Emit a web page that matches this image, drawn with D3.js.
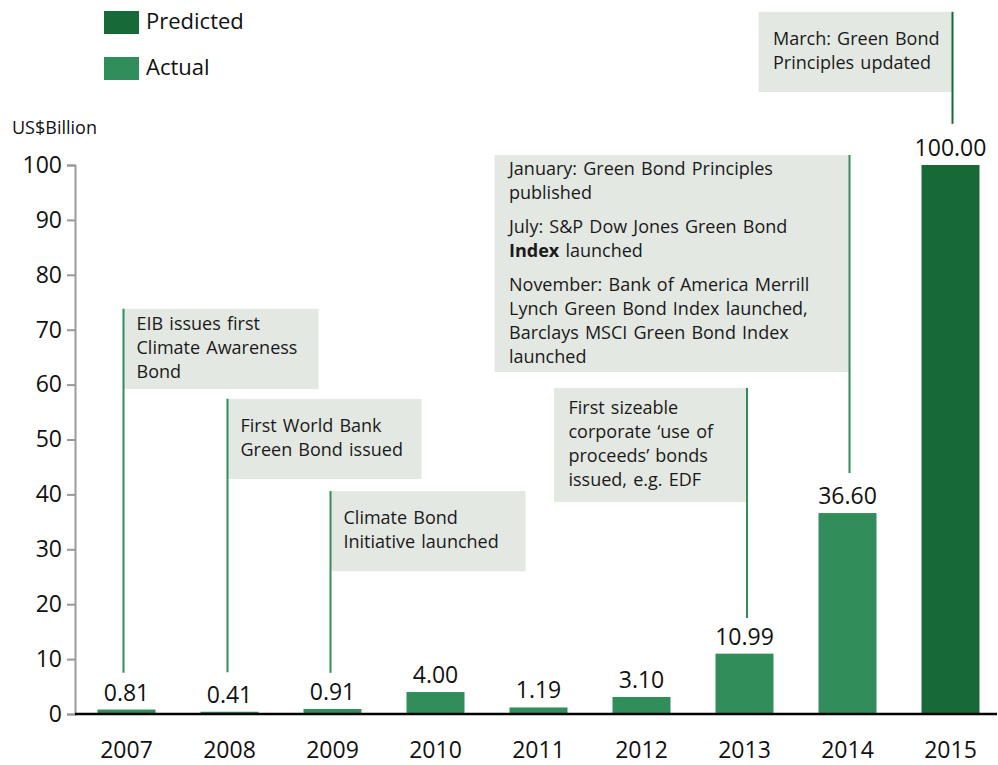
<!DOCTYPE html>
<html>
<head>
<meta charset="utf-8">
<script src="https://cdn.jsdelivr.net/npm/d3@7"></script>
<style>
body { margin: 0; background: #fff; }
svg { font-family: "Open Sans", sans-serif; }
</style>
</head>
<body>
<div id="chart"></div>
<script>
// values
var years = ["2007", "2008", "2009", "2010", "2011", "2012", "2013", "2014", "2015"];
var values = [0.81, 0.41, 0.91, 4.00, 1.19, 3.10, 10.99, 36.60, 100.00];
var kinds = ["Actual", "Actual", "Actual", "Actual", "Actual", "Actual", "Actual", "Actual", "Predicted"];
var legendNames = ["Predicted", "Actual"];
var yTicks = [0, 10, 20, 30, 40, 50, 60, 70, 80, 90, 100];
var yTitle = "US$Billion";

var noteYears = ["2007", "2008", "2009", "2013", "2014", "2015"];
var noteTexts = [
  [["EIB issues first", "Climate Awareness", "Bond"]],
  [["First World Bank", "Green Bond issued"]],
  [["Climate Bond", "Initiative launched"]],
  [["First sizeable", "corporate \u2018use of", "proceeds\u2019 bonds", "issued, e.g. EDF"]],
  [["January: Green Bond Principles", "published"],
   ["July: S&P Dow Jones Green Bond", "**Index** launched"],
   ["November: Bank of America Merrill", "Lynch Green Bond Index launched,", "Barclays MSCI Green Bond Index", "launched"]],
  [["March: Green Bond", "Principles updated"]]
];

// layout of the callouts (box top/bottom and leader end in axis units)
var noteLayout = [
  { side: "left", top: 73.8, bottom: 59.2, w: 195, end: 7.5, dx: -3 },
  { side: "left", top: 57.4, bottom: 42.8, w: 194, end: 7.6, dx: -2 },
  { side: "left", top: 40.6, bottom: 26.0, w: 195, end: 7.5, dx: -2 },
  { side: "right", top: 59.4, bottom: 38.6, w: 193, end: 17.5, dx: 2.5 },
  { side: "right", top: 101.8, bottom: 62.3, w: 355, end: 43.9, dx: 2 },
  { side: "right", top: 127.9, bottom: 113.3, w: 194, end: 107.5, dx: 2 }
];

var colors = { "Actual": "#318e5a", "Predicted": "#176a38" };
var boxFill = "#e4e8e2";

var W = 998, H = 765;
var svg = d3.select("#chart").append("svg")
  .attr("width", W).attr("height", H);

var xScale = d3.scaleBand()
  .domain(years)
  .range([75, 1002])
  .paddingInner(0.437)
  .paddingOuter(0.2185);

var yScale = d3.scaleLinear()
  .domain([0, 100])
  .range([714, 165]);

// callouts (drawn first so bars/labels sit on top)
var notes = svg.append("g").attr("class", "notes");
noteYears.forEach(function (yr, i) {
  var L = noteLayout[i];
  var cx = xScale(yr) + xScale.bandwidth() / 2 + L.dx;
  var top = yScale(L.top), bot = yScale(L.bottom);
  var bx = L.side == "left" ? cx : cx - L.w;
  var g = notes.append("g");
  g.append("rect")
    .attr("x", bx).attr("y", top)
    .attr("width", L.w).attr("height", bot - top)
    .attr("fill", boxFill);
  g.append("line")
    .attr("x1", cx).attr("x2", cx)
    .attr("y1", top).attr("y2", yScale(L.end))
    .attr("stroke", colors[kinds[years.indexOf(yr)]])
    .attr("stroke-width", 2);

  var paras = noteTexts[i];
  var nLines = d3.sum(paras, function (p) { return p.length; });
  var gaps = paras.length - 1;
  var lh = 24, pg = 10;
  var first = (top + bot) / 2 - (lh * (nLines - 1) + pg * gaps) / 2 + 5;
  var tx = bx + (L.side == "left" ? 13 : 14.5);
  var k = 0;
  paras.forEach(function (p, pi) {
    p.forEach(function (line) {
      var t = g.append("text")
        .attr("x", tx)
        .attr("y", first + k * lh + pi * pg)
        .attr("font-size", 18)
        .attr("word-spacing", 1.5)
        .attr("fill", "#1a1a1a");
      line.split("**").forEach(function (part, j) {
        if (!part) return;
        t.append("tspan").attr("font-weight", j % 2 ? 700 : 400).text(part);
      });
      k++;
    });
  });
});

// y axis
var yAxis = d3.axisLeft(yScale).tickValues(yTicks).tickSize(8).tickPadding(5);
var gy = svg.append("g").attr("transform", "translate(75,0)").call(yAxis);
gy.select(".domain").attr("stroke", "#999").attr("stroke-width", 2);
gy.selectAll(".tick line").attr("stroke", "#999").attr("stroke-width", 2);
gy.selectAll(".tick text").attr("font-size", 23).attr("fill", "#111")
  .attr("font-family", "'Open Sans', sans-serif");

svg.append("text")
  .attr("x", 12).attr("y", 134)
  .attr("font-size", 18).attr("fill", "#111")
  .text(yTitle);

// bars
svg.append("g").selectAll("rect")
  .data(years)
  .enter().append("rect")
  .attr("x", function (d) { return xScale(d); })
  .attr("y", function (d, i) { return yScale(values[i]); })
  .attr("width", xScale.bandwidth())
  .attr("height", function (d, i) { return yScale(0) - yScale(values[i]); })
  .attr("fill", function (d, i) { return colors[kinds[i]]; });

// value labels
svg.append("g").selectAll("text")
  .data(years)
  .enter().append("text")
  .attr("x", function (d) { return xScale(d) + xScale.bandwidth() / 2; })
  .attr("y", function (d, i) { return yScale(values[i]) - 9; })
  .attr("text-anchor", "middle")
  .attr("font-size", 23).attr("fill", "#111")
  .text(function (d, i) { return values[i].toFixed(2); });

// x axis
var xAxis = d3.axisBottom(xScale).tickSize(0).tickPadding(28);
var gx = svg.append("g").attr("transform", "translate(0,714)").call(xAxis);
gx.select(".domain").remove();
gx.selectAll(".tick text").attr("font-size", 23).attr("fill", "#111")
  .attr("font-family", "'Open Sans', sans-serif");

svg.append("line")
  .attr("x1", 75).attr("x2", 997)
  .attr("y1", yScale(0)).attr("y2", yScale(0))
  .attr("stroke", "#000").attr("stroke-width", 2.7);

// legend
var leg = svg.append("g").selectAll("g")
  .data(legendNames)
  .enter().append("g")
  .attr("transform", function (d, i) { return "translate(104," + (11 + i * 46) + ")"; });
leg.append("rect")
  .attr("width", 35).attr("height", 23)
  .attr("fill", function (d) { return colors[d]; });
leg.append("text")
  .attr("x", 42).attr("y", 18)
  .attr("font-size", 22).attr("fill", "#111")
  .text(function (d) { return d; });
</script>
</body>
</html>
